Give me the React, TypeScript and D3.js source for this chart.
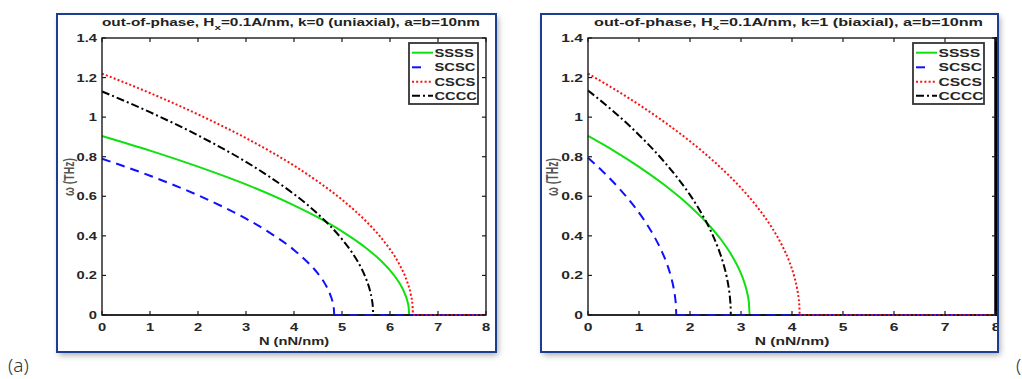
import React from 'react';
import * as d3 from 'd3';

// ---------- data ----------
const xTicks = [0, 1, 2, 3, 4, 5, 6, 7, 8];
const yTicks = [0, 0.2, 0.4, 0.6, 0.8, 1, 1.2, 1.4];
const yTickLabels = ['0', '0.2', '0.4', '0.6', '0.8', '1', '1.2', '1.4'];
const seriesNames = ['SSSS', 'SCSC', 'CSCS', 'CCCC'];
const titles = ['k=0 (uniaxial)', 'k=1 (biaxial)'];
const panelLabels = ['(a)', '('];

// panel (a): k = 0 (uniaxial)
const nA_SSSS = [0, 1, 2, 3, 4, 4.5, 5, 5.5, 5.8, 6.0, 6.2, 6.3, 6.36, 6.39, 6.4, 8];
const wA_SSSS = [0.905, 0.831, 0.75, 0.66, 0.554, 0.493, 0.423, 0.339, 0.277, 0.226, 0.16, 0.113, 0.072, 0.036, 0, 0];
const nA_SCSC = [0, 1, 2, 3, 3.5, 4, 4.3, 4.5, 4.65, 4.75, 4.8, 4.83, 4.84, 8];
const wA_SCSC = [0.79, 0.704, 0.605, 0.487, 0.415, 0.329, 0.263, 0.209, 0.156, 0.106, 0.07, 0.032, 0, 0];
const nA_CSCS = [0, 1, 2, 3, 4, 4.5, 5, 5.5, 5.8, 6.0, 6.2, 6.35, 6.43, 6.47, 6.48, 8];
const wA_CSCS = [1.22, 1.122, 1.014, 0.894, 0.755, 0.674, 0.583, 0.474, 0.395, 0.332, 0.254, 0.173, 0.107, 0.048, 0, 0];
const nA_CCCC = [0, 1, 2, 3, 3.5, 4, 4.5, 5, 5.2, 5.4, 5.5, 5.58, 5.62, 5.645, 5.65, 8];
const wA_CCCC = [1.13, 1.025, 0.908, 0.774, 0.697, 0.611, 0.51, 0.383, 0.319, 0.238, 0.184, 0.126, 0.082, 0.034, 0, 0];

// panel (b): k = 1 (biaxial)
const nB_SSSS = [0, 0.5, 1, 1.5, 2, 2.3, 2.6, 2.8, 2.95, 3.05, 3.12, 3.155, 3.17, 8];
const wB_SSSS = [0.905, 0.831, 0.749, 0.657, 0.55, 0.474, 0.384, 0.309, 0.238, 0.176, 0.114, 0.062, 0, 0];
const nB_SCSC = [0, 0.3, 0.6, 0.9, 1.1, 1.3, 1.45, 1.55, 1.63, 1.68, 1.71, 1.725, 1.73, 8];
const wB_SCSC = [0.795, 0.723, 0.643, 0.551, 0.48, 0.396, 0.32, 0.257, 0.191, 0.135, 0.085, 0.043, 0, 0];
const nB_CSCS = [0, 0.5, 1, 1.5, 2, 2.5, 3, 3.3, 3.6, 3.8, 3.95, 4.05, 4.1, 4.13, 4.145, 4.15, 8];
const wB_CSCS = [1.22, 1.144, 1.063, 0.975, 0.878, 0.769, 0.642, 0.552, 0.444, 0.354, 0.268, 0.189, 0.134, 0.085, 0.042, 0, 0];
const nB_CCCC = [0, 0.5, 1, 1.5, 1.8, 2.0, 2.2, 2.4, 2.55, 2.65, 2.72, 2.76, 2.785, 2.797, 2.8, 8];
const wB_CCCC = [1.135, 1.029, 0.91, 0.773, 0.678, 0.607, 0.525, 0.429, 0.339, 0.263, 0.192, 0.136, 0.083, 0.037, 0, 0];

const panelData = [
  [[nA_SSSS, wA_SSSS], [nA_SCSC, wA_SCSC], [nA_CSCS, wA_CSCS], [nA_CCCC, wA_CCCC]],
  [[nB_SSSS, wB_SSSS], [nB_SCSC, wB_SCSC], [nB_CSCS, wB_CSCS], [nB_CCCC, wB_CCCC]],
];

// ---------- styles / layout ----------
const seriesStyle = [
  { color: '#10e010', dash: '' },
  { color: '#1010ff', dash: '9,6' },
  { color: '#ff1010', dash: '2,2.2' },
  { color: '#000000', dash: '8,3,2,3' },
];

const panels = [
  {
    frame: { x: 57, y: 14, w: 439, h: 338 },
    plot: { l: 102, r: 486, t: 38, b: 315 },
    sx: 1.4,
    legend: { x: 409, y: 43, w: 69, h: 61 },
    title: { x: 102, len: 378 },
    yLabelX: 74,
    label: { x: 8, y: 372 },
  },
  {
    frame: { x: 541, y: 14, w: 457, h: 338 },
    plot: { l: 588, r: 996, t: 38, b: 315 },
    sx: 1.49,
    legend: { x: 913, y: 43, w: 71, h: 61 },
    title: { x: 594, len: 389 },
    yLabelX: 558,
    label: { x: 1016, y: 372 },
  },
];

const FONT = '"Liberation Sans", Arial, Helvetica, sans-serif';

function Panel({ idx }: { idx: number }) {
  const p = panels[idx];
  const x = d3.scaleLinear().domain([0, 8]).range([p.plot.l, p.plot.r]);
  const y = d3.scaleLinear().domain([0, 1.4]).range([p.plot.b, p.plot.t]);
  const line = d3
    .line<[number, number]>()
    .x((d) => x(d[0]))
    .y((d) => y(d[1]))
    .curve(d3.curveMonotoneX);
  const tickLen = 4;
  const lg = p.legend;
  const rowY = [9.7, 24.3, 38.7, 52.7];
  const clipId = 'clip' + idx;

  return (
    <g>
      <defs>
        <clipPath id={clipId}>
          <rect x={p.frame.x} y={p.frame.y} width={p.frame.w} height={p.frame.h} />
        </clipPath>
      </defs>
      <rect
        x={p.frame.x}
        y={p.frame.y}
        width={p.frame.w}
        height={p.frame.h}
        fill="#fff"
        stroke="none"
        filter="url(#shadow)"
      />
      <g clipPath={`url(#${clipId})`}>
        {/* title */}
        <text
          x={p.title.x}
          y={26}
          fontFamily={FONT}
          fontWeight="bold"
          fontSize={10.5}
          fill="#222"
          textLength={p.title.len}
          lengthAdjust="spacingAndGlyphs"
        >
          out-of-phase, H
          <tspan dy={3.5} fontSize={8}>x</tspan>
          <tspan dy={-3.5}>=0.1A/nm, {titles[idx]}, a=b=10nm</tspan>
        </text>

        {/* curves */}
        <g>
          {panelData[idx].map(([ns, ws], si) => {
            const pts = ns.map((n, i) => [n, ws[i]] as [number, number]);
            return (
              <path
                key={si}
                d={line(pts) || ''}
                fill="none"
                stroke={seriesStyle[si].color}
                strokeWidth={2}
                strokeDasharray={seriesStyle[si].dash || undefined}
              />
            );
          })}
        </g>

        {/* axes box */}
        <rect
          x={p.plot.l}
          y={p.plot.t}
          width={p.plot.r - p.plot.l}
          height={p.plot.b - p.plot.t}
          fill="none"
          stroke="#1a1a1a"
          strokeWidth={1.4}
        />
        <line x1={p.plot.l} x2={p.plot.r} y1={p.plot.b} y2={p.plot.b} stroke="#1a1a1a" strokeWidth={1.6} />
        {idx === 1 && (
          <line x1={p.plot.r} x2={p.plot.r} y1={p.plot.t - 1} y2={p.plot.b + 1} stroke="#000" strokeWidth={3.5} />
        )}
        {/* data lying on the bottom axis drawn over it */}
        <g>
          {panelData[idx].map(([ns, ws], si) => {
            const pts = ns.map((n, i) => [n, ws[i]] as [number, number]).filter((d) => d[1] === 0);
            return (
              <path
                key={si}
                d={line(pts) || ''}
                fill="none"
                stroke={seriesStyle[si].color}
                strokeWidth={1.6}
                strokeDasharray={seriesStyle[si].dash || undefined}
                opacity={si === 0 || si === 3 ? 0 : 0.9}
              />
            );
          })}
        </g>

        {/* ticks */}
        {xTicks.map((t) => (
          <g key={'xt' + t}>
            <line x1={x(t)} x2={x(t)} y1={p.plot.b} y2={p.plot.b - tickLen} stroke="#1a1a1a" strokeWidth={1.2} />
            <line x1={x(t)} x2={x(t)} y1={p.plot.t} y2={p.plot.t + tickLen} stroke="#1a1a1a" strokeWidth={1.2} />
            <text
              transform={`translate(${x(t)},${331}) scale(${p.sx},1)`}
              textAnchor="middle"
              fontFamily={FONT}
              fontWeight="bold"
              fontSize={10.5}
              fill="#262626"
            >
              {String(t)}
            </text>
          </g>
        ))}
        {yTicks.map((t, i) => (
          <g key={'yt' + t}>
            <line x1={p.plot.l} x2={p.plot.l + tickLen} y1={y(t)} y2={y(t)} stroke="#1a1a1a" strokeWidth={1.2} />
            <line x1={p.plot.r} x2={p.plot.r - tickLen} y1={y(t)} y2={y(t)} stroke="#1a1a1a" strokeWidth={1.2} />
            <text
              transform={`translate(${p.plot.l - 5},${y(t) + 4}) scale(${p.sx},1)`}
              textAnchor="end"
              fontFamily={FONT}
              fontWeight="bold"
              fontSize={10.5}
              fill="#262626"
            >
              {yTickLabels[i]}
            </text>
          </g>
        ))}

        {/* axis labels */}
        <text
          transform={`translate(${(p.plot.l + p.plot.r) / 2},${345}) scale(${p.sx},1)`}
          textAnchor="middle"
          fontFamily={FONT}
          fontWeight="bold"
          fontSize={10.5}
          fill="#262626"
        >
          N (nN/nm)
        </text>
        <text
          transform={`translate(${p.yLabelX},${177}) scale(${p.sx},1) rotate(-90)`}
          textAnchor="middle"
          fontFamily={FONT}
          fontWeight="bold"
          fontSize={10.5}
          fill="#555"
        >
          ω (THz)
        </text>

        {/* legend */}
        <rect x={lg.x} y={lg.y} width={lg.w} height={lg.h} fill="#fff" stroke="#333" strokeWidth={1.8} />
        {seriesNames.map((s, si) => (
          <g key={s}>
            <line
              x1={lg.x + 3}
              x2={si === 1 ? lg.x + 12 : lg.x + 24}
              y1={lg.y + rowY[si]}
              y2={lg.y + rowY[si]}
              stroke={seriesStyle[si].color}
              strokeWidth={2}
              strokeDasharray={si === 1 ? undefined : seriesStyle[si].dash || undefined}
            />
            <text
              transform={`translate(${lg.x + 25.5},${lg.y + rowY[si] + 4}) scale(${p.sx},1)`}
              fontFamily={FONT}
              fontWeight="bold"
              fontSize={10.5}
              fill="#262626"
            >
              {s}
            </text>
          </g>
        ))}
      </g>

      <rect
        x={p.frame.x}
        y={p.frame.y}
        width={p.frame.w}
        height={p.frame.h}
        fill="none"
        stroke="#1d3d8f"
        strokeWidth={2}
      />

      {/* panel label */}
      <text x={p.label.x} y={p.label.y} fontFamily='"Noto Sans", sans-serif' fontWeight={300} fontSize={19} fill="#333">
        {panelLabels[idx]}
      </text>
    </g>
  );
}

export default function App() {
  return (
    <svg
      width={1022}
      height={379}
      style={{ position: 'absolute', left: 0, top: 0, display: 'block', background: '#fff' }}
    >
      <defs>
        <filter id="shadow" x="-5%" y="-5%" width="112%" height="115%">
          <feDropShadow dx={2} dy={3} stdDeviation={3} floodColor="#000" floodOpacity={0.35} />
        </filter>
      </defs>
      <Panel idx={0} />
      <Panel idx={1} />
    </svg>
  );
}
